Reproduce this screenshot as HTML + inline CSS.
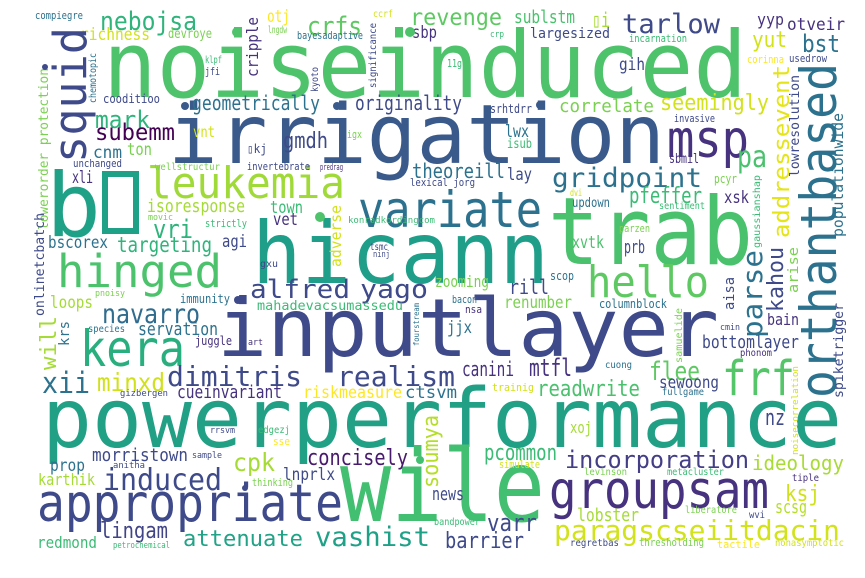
<!DOCTYPE html>
<html><head><meta charset="utf-8"><style>
html,body{margin:0;padding:0;background:#fff;}
svg{display:block;}
text{font-family:"DejaVu Sans Mono","Liberation Mono",monospace;}
</style></head><body>
<svg width="865" height="578" viewBox="0 0 865 578">
<rect x="0" y="0" width="865" height="578" fill="#fff"/>
<g id="words"></g>
</svg>
<script>
// [word, x, baselineY, fontSize, color, textLength, vertical]
const W = [
["noiseinduced",103,97,92,"#4ec36b",644,0],
["irrigation",168,163,82,"#3a5a8c",497,0],
["b",46,236,88,"#1fa187",55,0],
["hicann",252,283,86,"#1f9e89",297,0],
["trab",548,264,94,"#4ac16d",205,0],
["inputlayer",217,356,80,"#3e4a89",502,0],
["powerperformance",42,447,82,"#22a085",800,0],
["wile",340,521,100,"#43bf71",205,0],
["appropriate",37,521,52,"#3e4a89",306,0],
["groupsam",549,508,52,"#46327e",220,0],
["msp",667,157,52,"#46327e",82,0],
["leukemia",147,198,44,"#a0da39",198,0],
["variate",358,227,50,"#2c718e",184,0],
["hinged",57,287,45,"#4cc26c",165,0],
["hello",587,297,44,"#5ec962",122,0],
["kera",80,366,50,"#29af7f",105,0],
["frf",722,395,48,"#54c568",73,0],
["navarro",102,323,27,"#2f6c8e",98,0],
["dimitris",167,386,28,"#3e4a89",135,0],
["realism",337,386,28,"#3e4a89",118,0],
["xii",42,393,29,"#2c728e",48,0],
["minxd",97,391,25,"#d0e11c",68,0],
["induced",103,490,30,"#3e4a89",119,0],
["attenuate",183,546,22,"#20a386",120,0],
["vashist",315,546,27,"#1fa188",115,0],
["lingam",100,538,22,"#414487",68,0],
["concisely",307,465,22,"#481a6c",101,0],
["cpk",233,471,25,"#a5db36",42,0],
["incorporation",565,468,24,"#433e85",184,0],
["ideology",752,470,20,"#a8db34",92,0],
["paragscseiitdacin",554,540,28,"#d2e21b",286,0],
["varr",487,531,24,"#3e4a89",50,0],
["barrier",445,548,22,"#3e4a89",79,0],
["ksj",785,501,22,"#d0e11c",35,0],
["pcommon",484,460,22,"#3bbb75",73,0],
["readwrite",537,396,22,"#4ac16d",103,0],
["flee",649,380,26,"#5ec962",51,0],
["mtfl",529,376,24,"#46327e",43,0],
["canini",462,376,20,"#46327e",52,0],
["bottomlayer",702,348,18,"#3e4a89",97,0],
["sewoong",659,388,17,"#3e4a89",60,0],
["renumber",504,308,17,"#7ad151",68,0],
["nz",765,425,22,"#3e4a89",20,0],
["lobster",577,521,18,"#a5db36",62,0],
["news",432,500,18,"#3e4a89",32,0],
["scsg",775,513,18,"#b5de2b",32,0],
["nebojsa",100,30,26,"#2fb47c",97,0],
["crfs",307,35,26,"#5ec962",55,0],
["revenge",410,25,23,"#5ec962",92,0],
["tarlow",622,33,27,"#3e4a89",98,0],
["sublstm",514,23,18,"#4ac16d",61,0],
["\u25afi",592,27,20,"#a8db34",18,0],
["largesized",530,38,14,"#3e4a89",80,0],
["yyp",757,25,16,"#46327e",27,0],
["otveir",787,30,17,"#46327e",58,0],
["yut",752,47,22,"#d2e21b",35,0],
["bst",802,52,24,"#2c728e",38,0],
["gih",619,70,17,"#3e4a89",26,0],
["correlate",559,112,18,"#7ad151",95,0],
["seemingly",660,110,22,"#d2e21b",109,0],
["pa",737,167,30,"#4ac16d",30,0],
["gridpoint",552,187,27,"#2c728e",150,0],
["pfeffer",629,203,22,"#3bbb75",73,0],
["lwx",505,137,17,"#2c728e",24,0],
["isub",507,148,13,"#3bbb75",25,0],
["theoreill",412,178,20,"#2c728e",93,0],
["lay",507,180,17,"#3e4a89",25,0],
["xsk",724,203,17,"#46327e",25,0],
["xvtk",572,248,17,"#4ac16d",32,0],
["prb",624,253,18,"#3e4a89",21,0],
["zooming",435,287,16,"#7ad151",54,0],
["rill",509,294,20,"#3e4a89",40,0],
["usedrow",789,62,11,"#3e4a89",38,0],
["corinna",747,63,11,"#fde725",37,0],
["incarnation",629,42,11,"#3bbb75",58,0],
["srhtdrr",490,113,12,"#3e4a89",42,0],
["invasive",674,122,11,"#3e4a89",41,0],
["sbmil",669,163,13,"#46327e",30,0],
["pcyr",714,183,12,"#7ad151",23,0],
["updown",572,207,13,"#2c728e",38,0],
["dvi",570,196,10,"#d2e21b",12,0],
["sentiment",659,209,10,"#3bbb75",46,0],
["parzen",619,232,11,"#7ad151",31,0],
["scop",550,280,12,"#2c728e",24,0],
["11g",447,67,11,"#3bbb75",15,0],
["crp",490,37,9,"#3bbb75",14,0],
["originality",355,110,20,"#3e4a89",107,0],
["geometrically",192,110,20,"#2c728e",128,0],
["richness",80,40,17,"#d2e21b",70,0],
["devroye",168,38,13,"#7ad151",44,0],
["compiegre",35,19,11,"#2c728e",48,0],
["otj",267,22,17,"#fde725",23,0],
["lngdw",268,33,10,"#7ad151",19,0],
["bayesadaptive",297,39,11,"#2c728e",66,0],
["ccrf",373,17,10,"#d2e21b",20,0],
["sbp",412,38,17,"#46327e",25,0],
["klpf",205,63,10,"#3bbb75",17,0],
["jfi",205,75,11,"#3e4a89",15,0],
["cooditioo",103,103,12,"#3e4a89",57,0],
["mark",95,128,24,"#2fb47c",55,0],
["subemm",95,140,23,"#440154",80,0],
["gmdh",283,148,22,"#3e4a89",45,0],
["cnm",93,158,17,"#2c728e",29,0],
["ton",127,155,17,"#7ad151",25,0],
["vnt",193,137,15,"#d2e21b",22,0],
["igx",347,138,11,"#7ad151",15,0],
["unchanged",73,167,11,"#3e4a89",49,0],
["wellstructur",155,170,10,"#7ad151",65,0],
["\u25afkj",247,153,12,"#3e4a89",20,0],
["invertebrate",247,170,11,"#3e4a89",63,0],
["predrag",320,170,9,"#46327e",23,0],
["lexical jorg",410,186,11,"#3e4a89",65,0],
["xli",72,183,17,"#46327e",21,0],
["isoresponse",147,212,18,"#a5db36",98,0],
["movic",148,220,9,"#7ad151",25,0],
["vri",153,238,26,"#2fb47c",40,0],
["town",270,213,17,"#3bbb75",33,0],
["vet",273,225,17,"#46327e",25,0],
["strictly",205,227,11,"#3bbb75",42,0],
["konradkordingcom",348,223,9,"#3bbb75",87,0],
["bscorex",48,248,17,"#2c728e",60,0],
["targeting",117,252,21,"#2fb47c",95,0],
["agi",222,247,17,"#3e4a89",25,0],
["gxu",260,267,10,"#3e4a89",18,0],
["tsmc",370,250,10,"#3e4a89",18,0],
["ninj",373,257,9,"#3e4a89",17,0],
["alfred",250,298,26,"#3e4a89",100,0],
["yago",360,298,26,"#3e4a89",68,0],
["pnoisy",95,296,9,"#7ad151",30,0],
["immunity",180,303,12,"#2c728e",50,0],
["loops",50,308,17,"#a5db36",43,0],
["mahadevacsumassedu",257,310,13,"#3bbb75",146,0],
["servation",138,335,18,"#2c728e",80,0],
["species",88,332,10,"#2c728e",37,0],
["juggle",195,345,12,"#46327e",37,0],
["art",248,345,9,"#46327e",15,0],
["gizbergen",120,396,9,"#3e4a89",48,0],
["cueinvariant",177,398,18,"#46327e",105,0],
["riskmeasure",303,398,17,"#fde725",99,0],
["ctsvm",405,398,17,"#2c728e",52,0],
["rrsvm",210,433,9,"#3e4a89",25,0],
["edgezj",258,433,10,"#3bbb75",32,0],
["sse",273,445,11,"#fde725",17,0],
["morristown",92,461,18,"#3e4a89",96,0],
["sample",192,458,9,"#3e4a89",30,0],
["prop",50,471,17,"#2c728e",35,0],
["anitha",113,468,9,"#3e4a89",32,0],
["lnprlx",283,480,17,"#3e4a89",52,0],
["karthik",38,485,16,"#a5db36",57,0],
["thinking",252,486,11,"#7ad151",41,0],
["redmond",37,548,16,"#3bbb75",60,0],
["petrochemical",113,548,9,"#3bbb75",57,0],
["bacon",452,303,11,"#2c728e",25,0],
["nsa",465,313,11,"#46327e",17,0],
["jjx",447,333,17,"#2c728e",25,0],
["columnblock",599,308,12,"#2c728e",68,0],
["bain",767,325,16,"#46327e",32,0],
["cmin",720,330,9,"#3e4a89",20,0],
["phonom",740,356,10,"#46327e",32,0],
["cuong",605,368,10,"#2c728e",27,0],
["trainig",492,391,11,"#d2e21b",42,0],
["fullgame",662,395,10,"#2c728e",42,0],
["xoj",570,433,16,"#a5db36",22,0],
["simulate",499,468,11,"#d2e21b",41,0],
["levinson",584,475,10,"#7ad151",43,0],
["metacluster",667,475,10,"#3bbb75",57,0],
["tiple",792,481,10,"#46327e",27,0],
["liberatore",685,513,10,"#7ad151",52,0],
["wvi",749,518,10,"#3e4a89",16,0],
["bandpower",434,525,10,"#3bbb75",46,0],
["regretbas",570,546,10,"#3e4a89",49,0],
["thresholding",639,546,11,"#7ad151",65,0],
["tactile",717,548,11,"#fde725",43,0],
["nonasymptotic",775,546,10,"#d2e21b",69,0],
["squid",86,163,45,"#3e4a89",136,1],
["orthantbased",836,398,50,"#2c728e",335,1],
["addressevent",789,238,22,"#e4e419",173,1],
["lowresolution",799,177,13,"#3e4a89",102,1],
["populationwide",843,237,15,"#2c728e",124,1],
["arise",798,293,14,"#7ad151",46,1],
["gaussianshap",760,248,10,"#3bbb75",73,1],
["cripple",258,77,16,"#46327e",60,1],
["significance",376,88,10,"#3e4a89",65,1],
["chemotopic",96,103,10,"#2c728e",50,1],
["kyoto",318,92,10,"#3e4a89",25,1],
["lowerorder protection",48,230,13,"#7ad151",162,1],
["onlinetcbatch",44,316,13,"#3e4a89",103,1],
["adverse",341,267,15,"#d2e21b",62,1],
["will",56,370,22,"#a5db36",54,1],
["krs",69,346,14,"#2c728e",25,1],
["fourstream",419,346,8,"#2c728e",43,1],
["soumya",438,488,22,"#b5de2b",73,1],
["parse",762,338,28,"#2c728e",88,1],
["kahou",783,312,22,"#3e4a89",65,1],
["aisa",734,310,14,"#3e4a89",33,1],
["samuelide",682,363,10,"#7ad151",55,1],
["spiketrigger",843,398,13,"#3e4a89",95,1],
["noisecorrelation",798,455,9,"#d2e21b",89,1]
];
const NS="http://www.w3.org/2000/svg";
const g=document.getElementById('words');
W.forEach(w=>{
  const t=document.createElementNS(NS,'text');
  
  
  t.setAttribute('font-size',w[3]);
  t.setAttribute('fill',w[4]);
  t.setAttribute('textLength',w[5]);
  t.setAttribute('lengthAdjust','spacingAndGlyphs');
  if(w[6]){
    t.setAttribute('x',0);t.setAttribute('y',0);
    t.setAttribute('transform','translate('+w[1]+','+w[2]+') rotate(-90)');
  } else {
    t.setAttribute('x',w[1]);t.setAttribute('y',w[2]);
  }
  t.textContent=w[0];
  g.appendChild(t);
});
const box=document.createElementNS(NS,'rect');


box.setAttribute('x',105);box.setAttribute('y',174);box.setAttribute('width',31);box.setAttribute('height',57);
box.setAttribute('fill','none');box.setAttribute('stroke','#1fa187');box.setAttribute('stroke-width',6);
g.appendChild(box);
[[237,32,5,"#4ec36b"],[410,32,5,"#4ec36b"],[45,67,3,"#3e4a89"],[185,106,4,"#3a5a8c"],[337,106,4,"#3a5a8c"],[540,105,4,"#3a5a8c"],[320,217,5,"#4ec36b"],[238,300,4,"#3e4a89"],[420,460,4,"#43bf71"],[245,488,3,"#3e4a89"]].forEach(d=>{
  const c=document.createElementNS(NS,'circle');
  
  
  c.setAttribute('cx',d[0]);c.setAttribute('cy',d[1]);c.setAttribute('r',d[2]);c.setAttribute('fill',d[3]);
  g.appendChild(c);
});
</script>
</body></html>
